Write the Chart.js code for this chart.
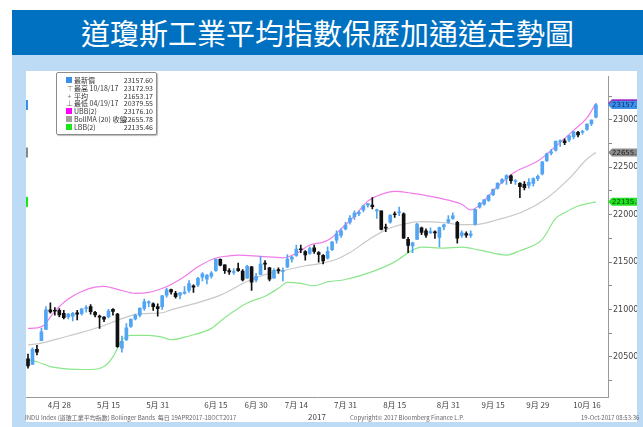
<!DOCTYPE html>
<html>
<head>
<meta charset="utf-8">
<script src="https://cdn.jsdelivr.net/npm/chart.js@4.4.0/dist/chart.umd.min.js"></script>
<style>
body { margin:0; width:643px; height:427px; background:#fff; position:relative; overflow:hidden; font-family:"Noto Sans CJK TC", sans-serif; }
#title { position:absolute; left:12px; top:10px; width:631px; height:45px; background:#0070C0; color:#fff; font-size:29px; line-height:45px; text-align:center; }
#frame { position:absolute; left:12px; top:55px; width:631px; height:372px; background:#BDDBF5; }
#panel { position:absolute; left:26px; top:71px; width:611px; height:351px; background:#fff; }
#chart { position:absolute; left:26px; top:71px; }
#legend { position:absolute; left:56px; top:72px; width:99px; height:61px; background:#fff; border:1px solid #8c8c8c; border-radius:2px; box-shadow:1px 1px 1px #bbb; font-size:7px; color:#333; }
#legend .row { position:absolute; left:0; width:99px; height:8px; line-height:8px; }
#legend .ic { position:absolute; left:9px; top:1px; width:6px; height:6px; }
#legend .gl { position:absolute; left:9px; width:7px; text-align:center; color:#777; }
#legend .lb { position:absolute; left:17px; white-space:nowrap; }
#legend .v { position:absolute; right:3px; }
.foot { position:absolute; top:413px; font-size:6px; color:#666; white-space:nowrap; }
</style>
</head>
<body>
<div id="title">道瓊斯工業平均指數保歷加通道走勢圖</div>
<div id="frame"></div>
<div id="panel"></div>
<canvas id="chart" width="611" height="351"></canvas>
<div id="legend"></div>
<div class="foot" style="left:25px">INDU Index (道瓊工業平均指數) Bollinger Bands &nbsp;每日 19APR2017-18OCT2017</div>
<div class="foot" style="left:350px">Copyright© 2017 Bloomberg Finance L.P.</div>
<div class="foot" style="left:581px">19-Oct-2017 08:53:36</div>
<script>
// x tick labels (trading-day index -> label)
const tickIdx = [7, 18, 29, 42, 51, 60, 71, 82, 94, 104, 114, 125];
const tickLabels = ['4月 28', '5月 15', '5月 31', '6月 15', '6月 30', '7月 14', '7月 31', '8月 15', '8月 31', '9月 15', '9月 29', '10月 16'];
const yTickValues = [20250, 20500, 20750, 21000, 21250, 21500, 21750, 22000, 22250, 22500, 22750, 23000, 23250];

// daily OHLC, 19 Apr 2017 - 18 Oct 2017
const opens = [
  20480, 20420, 20580, 20670, 20790, 20995, 20990, 20990,
  20960, 20920, 20930, 20965, 20955, 21010, 21030, 20970, 20930, 20920,
  20920, 21000, 20950, 20590, 20680, 20820, 20900, 20940, 21010, 21070, 21060, 21030,
  21030, 21150, 21210, 21170, 21150, 21170, 21200, 21250, 21260, 21340, 21320, 21350,
  21410, 21530, 21470, 21410, 21390, 21430, 21405, 21330, 21450, 21310,
  21370, 21490, 21440, 21330, 21420, 21400, 21450, 21530, 21570, 21640, 21610, 21590, 21650, 21600, 21570, 21540, 21630, 21730, 21780, 21850,
  21920, 21980, 22010, 22050, 22100, 22100, 22040, 22040, 21860, 21920, 22010, 22020, 22010, 21740, 21670, 21740, 21860, 21830, 21810, 21810, 21760, 21870, 21920,
  21960, 21920, 21780, 21800, 21780, 21900, 22080, 22110, 22150, 22210, 22280, 22340, 22380, 22410, 22350, 22330, 22320, 22310, 22330, 22380,
  22430, 22570, 22650, 22680, 22770, 22780, 22790, 22820, 22870, 22870, 22900, 22960, 23030
];
const highs = [
  20530, 20595, 20620, 20800, 21030, 21070, 21020, 21010,
  20990, 20960, 20970, 20990, 21010, 21040, 21050, 20980, 20940, 20925,
  21000, 21010, 20960, 20720, 20850, 20900, 20950, 21020, 21110, 21090, 21070, 21060,
  21150, 21225, 21215, 21190, 21180, 21240, 21305, 21260, 21340, 21390, 21370, 21400,
  21535, 21535, 21470, 21430, 21430, 21490, 21420, 21465, 21455, 21380,
  21560, 21515, 21445, 21430, 21440, 21440, 21580, 21560, 21680, 21680, 21620, 21660, 21680, 21610, 21580, 21660, 21720, 21830, 21850, 21920,
  21990, 22040, 22040, 22100, 22120, 22180, 22060, 22040, 21900, 22000, 22030, 22080, 22020, 21760, 21710, 21910, 21870, 21850, 21860, 21830, 21870, 21900, 21990,
  22020, 21930, 21830, 21820, 21830, 22060, 22130, 22160, 22210, 22270, 22340, 22380, 22420, 22420, 22370, 22340, 22350, 22380, 22390, 22420,
  22560, 22650, 22690, 22780, 22790, 22800, 22840, 22880, 22880, 22890, 22960, 23000, 23173
];
const lows = [
  20380, 20420, 20520, 20670, 20790, 20960, 20940, 20920,
  20900, 20900, 20880, 20890, 20940, 20970, 20950, 20920, 20800, 20870,
  20910, 20940, 20600, 20550, 20670, 20810, 20890, 20920, 20990, 21030, 20990, 20930,
  21000, 21130, 21160, 21120, 21110, 21160, 21180, 21180, 21240, 21300, 21270, 21330,
  21400, 21460, 21380, 21370, 21370, 21400, 21300, 21330, 21200, 21290,
  21370, 21420, 21300, 21330, 21380, 21300, 21440, 21500, 21560, 21600, 21520, 21580, 21590, 21500, 21480, 21530, 21620, 21700, 21760, 21840,
  21900, 21950, 21990, 22030, 22080, 22060, 21960, 21840, 21820, 21910, 21970, 21990, 21750, 21600, 21600, 21740, 21790, 21760, 21800, 21750, 21660, 21840, 21910,
  21950, 21700, 21760, 21760, 21760, 21890, 22070, 22100, 22140, 22200, 22270, 22330, 22320, 22330, 22320, 22180, 22260, 22280, 22300, 22360,
  22420, 22560, 22630, 22670, 22720, 22740, 22770, 22800, 22820, 22850, 22890, 22940, 23020
];
const closes = [
  20404, 20579, 20548, 20764, 20996, 20975, 20981, 20941,
  20913, 20950, 20958, 20951, 21007, 21012, 20976, 20943, 20919, 20897,
  20982, 20980, 20607, 20663, 20805, 20895, 20938, 21012, 21083, 21080, 21029, 21009,
  21144, 21206, 21184, 21136, 21174, 21183, 21272, 21236, 21328, 21375, 21360, 21384,
  21529, 21467, 21410, 21397, 21395, 21410, 21311, 21455, 21287, 21350,
  21479, 21478, 21320, 21414, 21409, 21409, 21532, 21553, 21638, 21630, 21575, 21641, 21612, 21580, 21513, 21613, 21711, 21797, 21830, 21891,
  21964, 22016, 22026, 22093, 22118, 22085, 22049, 21844, 21858, 21994, 21999, 22025, 21751, 21675, 21704, 21900, 21812, 21783, 21814, 21808, 21865, 21892, 21948,
  21988, 21753, 21808, 21785, 21798, 22057, 22119, 22158, 22203, 22268, 22331, 22371, 22413, 22359, 22350, 22296, 22284, 22341, 22381, 22405,
  22558, 22642, 22662, 22775, 22774, 22761, 22831, 22873, 22841, 22872, 22957, 22997, 23158
];

// Bollinger bands as [day index, value]
const ubbPts = [[0, 20800], [2, 20805], [3.5, 20830], [5, 20920], [7, 21030], [9, 21110], [12, 21190], [15, 21235], [17, 21244], [19, 21225], [21, 21200], [24, 21170], [27, 21180], [29, 21205], [32, 21264], [35, 21347], [38, 21450], [42, 21543], [45, 21565], [47, 21574], [52, 21560], [57, 21545], [60, 21590], [63, 21680], [66, 21710], [68, 21760], [70, 21850], [72, 21936], [74, 22040], [76, 22143], [79, 22215], [82, 22246], [86, 22225], [90, 22194], [94, 22153], [97, 22110], [99, 22050], [101, 22101], [103, 22200], [105, 22298], [109, 22452], [114, 22566], [118, 22721], [122, 22890], [125, 23021], [127, 23176]];
const maPts = [[0, 20624], [3, 20645], [8, 20707], [12, 20758], [17, 20831], [21, 20903], [25, 20955], [30, 20965], [32, 20996], [37, 21058], [43, 21151], [49, 21295], [53, 21368], [58, 21419], [62, 21461], [65, 21481], [69, 21530], [72, 21600], [76, 21730], [80, 21840], [84, 21900], [88, 21926], [93, 21915], [97, 21895], [100, 21895], [105, 21946], [111, 22039], [116, 22174], [121, 22380], [125, 22587], [127, 22656]];
const lbbPts = [[0, 20469], [2, 20448], [5, 20397], [8, 20376], [14, 20366], [17, 20397], [19, 20500], [21, 20676], [23, 20727], [27, 20727], [30, 20707], [32, 20680], [36, 20720], [41, 20800], [44, 20913], [49, 21068], [53, 21140], [56, 21223], [58, 21285], [61, 21275], [64, 21250], [67, 21290], [71, 21316], [77, 21399], [82, 21502], [86, 21626], [88, 21657], [93, 21647], [97, 21657], [101, 21626], [107, 21574], [110, 21620], [115, 21740], [118, 21960], [120, 22020], [123, 22091], [127, 22135]];

// legend rows
const legendRows = [
  { icon: '#3C8FE8', label: '最新價', value: '23157.60' },
  { glyph: '⊤', label: '最高 10/18/17', value: '23172.93' },
  { glyph: '+', label: '平均', value: '21653.17' },
  { glyph: '⊥', label: '最低 04/19/17', value: '20379.55' },
  { icon: '#FF00FF', label: 'UBB(2)', value: '23176.10' },
  { icon: '#A0A0A0', label: 'BollMA (20) 收盤', value: '22655.78' },
  { icon: '#19E619', label: 'LBB(2)', value: '22135.46' }
];
const tags = [
  { value: 23176.10, label: '23176.10', color: '#9B30C8', text: '#3a0f50' },
  { value: 23157.60, label: '23157.60', color: '#3C8FE8', text: '#10306a' },
  { value: 22655.78, label: '22655.78', color: '#8C8C8C', text: '#222' },
  { value: 22135.46, label: '22135.46', color: '#22E022', text: '#0a4a0a' }
];

const legend = document.getElementById('legend');
legendRows.forEach((r, i) => {
  const row = document.createElement('div');
  row.className = 'row';
  row.style.top = (3 + i * 7.8) + 'px';
  let html = r.icon ? '<span class="ic" style="background:' + r.icon + '"></span>' : '<span class="gl">' + r.glyph + '</span>';
  html += '<span class="lb">' + r.label + '</span><span class="v">' + r.value + '</span>';
  row.innerHTML = html;
  legend.appendChild(row);
});

const upColor = '#52A5F2';
const downColor = '#111111';
const candleColors = opens.map((o, i) => closes[i] >= o ? upColor : downColor);

const tagPlugin = {
  id: 'tagPlugin',
  afterDraw(chart) {
    const { ctx, chartArea, scales: { y } } = chart;
    ctx.save();
    // small markers on the left edge
    [[23157.60, '#3C8FE8'], [22655.78, '#888'], [22135.46, '#19E619']].forEach(m => {
      const py = y.getPixelForValue(m[0]);
      ctx.fillStyle = m[1];
      ctx.fillRect(chartArea.left, py - 5, 2, 10);
    });
    // value tags on the right axis
    ctx.font = '7px "DejaVu Sans", sans-serif';
    ctx.textBaseline = 'middle';
    tags.forEach(t => {
      const py = y.getPixelForValue(t.value);
      const x0 = chartArea.right;
      ctx.fillStyle = t.color;
      ctx.beginPath();
      ctx.moveTo(x0, py);
      ctx.lineTo(x0 + 4, py - 4);
      ctx.lineTo(x0 + 40, py - 4);
      ctx.lineTo(x0 + 40, py + 4);
      ctx.lineTo(x0 + 4, py + 4);
      ctx.closePath();
      ctx.fill();
      ctx.fillStyle = t.text;
      ctx.fillText(t.label, x0 + 4, py + 0.5);
    });
    ctx.restore();
  }
};

new Chart(document.getElementById('chart'), {
  type: 'bar',
  data: {
    datasets: [
      {
        label: 'body',
        data: opens.map((o, i) => ({ x: i, y: [o, closes[i]] })),
        backgroundColor: candleColors,
        barThickness: 3,
        minBarLength: 1,
        grouped: false,
        order: 1
      },
      {
        label: 'wick',
        data: lows.map((l, i) => ({ x: i, y: [l, highs[i]] })),
        backgroundColor: candleColors,
        barThickness: 1,
        grouped: false,
        order: 2
      },
      {
        type: 'line', label: 'UBB',
        data: ubbPts.map(p => ({ x: p[0], y: p[1] })),
        borderColor: '#F07CEA', borderWidth: 1.2, pointRadius: 0, cubicInterpolationMode: 'monotone', order: 3
      },
      {
        type: 'line', label: 'BollMA',
        data: maPts.map(p => ({ x: p[0], y: p[1] })),
        borderColor: '#C8C8C8', borderWidth: 1.2, pointRadius: 0, cubicInterpolationMode: 'monotone', order: 3
      },
      {
        type: 'line', label: 'LBB',
        data: lbbPts.map(p => ({ x: p[0], y: p[1] })),
        borderColor: '#8CE68C', borderWidth: 1.2, pointRadius: 0, cubicInterpolationMode: 'monotone', order: 3
      }
    ]
  },
  options: {
    responsive: false,
    animation: false,
    layout: { padding: 0 },
    plugins: { legend: { display: false }, tooltip: { enabled: false } },
    scales: {
      x: {
        type: 'linear',
        min: -0.45,
        max: 129.7,
        offset: false,
        grid: { display: false, drawTicks: false },
        border: { color: '#999' },
        afterBuildTicks: s => { s.ticks = tickIdx.map(v => ({ value: v })); },
        afterFit: s => { s.height = 25; },
        ticks: {
          autoSkip: false, maxRotation: 0, padding: 3,
          font: { size: 8, family: '"Noto Sans CJK TC"' }, color: '#444',
          callback: v => tickLabels[tickIdx.indexOf(v)]
        },
        title: { display: true, text: '2017', padding: 0, font: { size: 8, family: '"Noto Sans CJK TC"' }, color: '#444' }
      },
      y: {
        position: 'right',
        min: 20076,
        max: 23455,
        grid: { drawOnChartArea: false, tickLength: 4, color: '#888' },
        border: { color: '#999' },
        afterBuildTicks: s => { s.ticks = yTickValues.map(v => ({ value: v })); },
        afterFit: s => { s.width = 29; },
        ticks: {
          padding: 1,
          font: { size: 8, family: '"DejaVu Sans"' }, color: '#444',
          callback: v => (v % 500 === 0 ? v : '')
        }
      }
    }
  },
  plugins: [tagPlugin]
});
</script>
</body>
</html>
